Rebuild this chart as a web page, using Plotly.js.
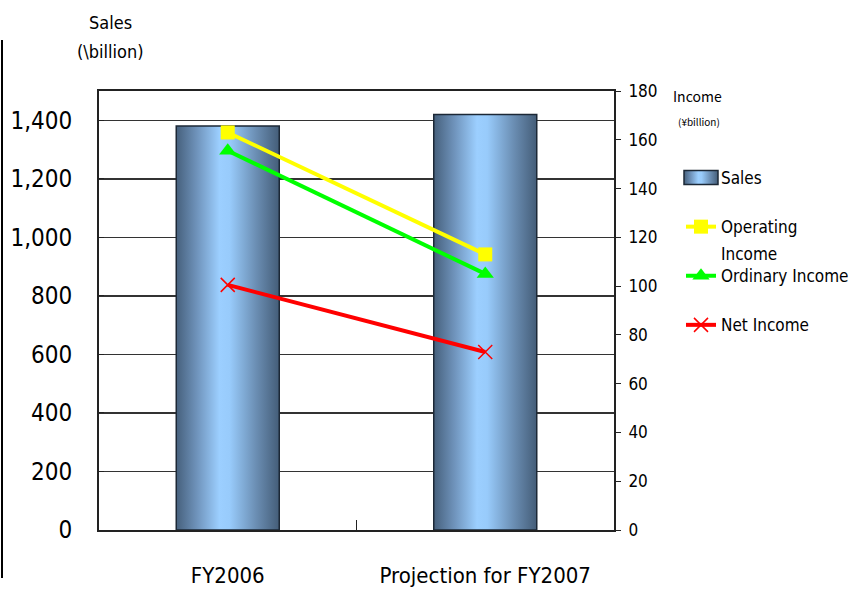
<!DOCTYPE html>
<html>
<head>
<meta charset="utf-8">
<script src="https://cdn.plot.ly/plotly-3.0.1.min.js"></script>
<style>html,body{margin:0;padding:0;background:#fff;}#chart{width:856px;height:589px;}</style>
</head>
<body>
<div id="chart"></div>
<script>
const categories = ['FY2006', 'Projection for FY2007'];
const sales = [1380, 1420];
const operatingIncome = [163, 113];
const ordinaryIncome = [155.5, 105];
const netIncome = [100.5, 73];
const salesTicks = [0, 200, 400, 600, 800, 1000, 1200, 1400];
const incomeTicks = [0, 20, 40, 60, 80, 100, 120, 140, 160, 180];

const FONT = 'DejaVu Sans Condensed, DejaVu Sans, sans-serif';

const traces = [
  {type:'bar', name:'Sales', x:categories, y:sales, width:0.4,
   marker:{color:'#8fbde8', line:{color:'#1c2836', width:1.5}}, legendgroup:'a', hoverinfo:'none'},
  {type:'scatter', mode:'lines+markers', name:'Operating', x:categories, y:operatingIncome, yaxis:'y2',
   line:{color:'#ffff00', width:4}, marker:{symbol:'square', size:14, color:'#ffff00'}, legendgroup:'b', hoverinfo:'none'},
  {type:'scatter', mode:'lines+markers', name:'Ordinary Income', x:categories, y:ordinaryIncome, yaxis:'y2',
   line:{color:'#00ff00', width:4}, marker:{symbol:'triangle-up', size:15, color:'#00ff00'}, legendgroup:'c', hoverinfo:'none'},
  {type:'scatter', mode:'lines+markers', name:'Net Income', x:categories, y:netIncome, yaxis:'y2',
   line:{color:'#ff0000', width:4}, marker:{symbol:'x-thin', size:14, color:'#ff0000', line:{color:'#ff0000', width:1.5}}, legendgroup:'d', hoverinfo:'none'}
];

const layout = {
  width:856, height:589,
  margin:{l:99, r:242, t:91, b:59},
  paper_bgcolor:'#ffffff', plot_bgcolor:'#ffffff',
  font:{family:FONT, color:'#000'},
  showlegend:true,
  xaxis:{
    type:'category', showline:true, mirror:true, linecolor:'#222', linewidth:2,
    ticks:'inside', tickson:'boundaries', ticklen:10, tickcolor:'#222', tickangle:0,
    tickfont:{size:22, family:FONT}, ticklabelstandoff:25, showgrid:false, zeroline:false, automargin:false
  },
  yaxis:{
    range:[0,1500], tickvals:salesTicks, tickformat:',', showline:true, linecolor:'#222', linewidth:2,
    ticks:'inside', ticklen:5, tickcolor:'#222',
    tickfont:{size:24, family:FONT}, ticklabelstandoff:20, automargin:false,
    showgrid:true, gridcolor:'#333', gridwidth:1.5, zeroline:false
  },
  yaxis2:{
    range:[0,180], tickvals:incomeTicks, overlaying:'y', side:'right', showline:true, linecolor:'#222', linewidth:2,
    ticks:'outside', ticklen:5, tickcolor:'#222', automargin:false, ticklabelstandoff:4,
    tickfont:{size:17, family:FONT}, showgrid:false, zeroline:false
  },
  legend:{xref:'container', yref:'container', x:681/856, y:1-160/589, xanchor:'left', yanchor:'top', bgcolor:'rgba(0,0,0,0)',
    font:{size:17, family:FONT}, tracegroupgap:24, traceorder:'grouped', itemwidth:30},
  annotations:[
    {text:'Sales', xref:'paper', yref:'paper', x:(110-99)/515, y:(530-22)/439, showarrow:false, font:{size:18, family:FONT}, xanchor:'center', yanchor:'middle'},
    {text:'(\\billion)', xref:'paper', yref:'paper', x:(110-99)/515, y:(530-52)/439, showarrow:false, font:{size:18, family:FONT}, xanchor:'center', yanchor:'middle'},
    {text:'Income', xref:'paper', yref:'paper', x:(697-99)/515, y:(530-96)/439, showarrow:false, font:{size:14, family:'Noto Sans CJK JP'}, xanchor:'center', yanchor:'middle'},
    {text:'(¥billion)', xref:'paper', yref:'paper', x:(699-99)/515, y:(530-121)/439, showarrow:false, font:{size:10, family:'Noto Sans CJK JP'}, xanchor:'center', yanchor:'middle'},
    {text:'Income', xref:'paper', yref:'paper', x:(719-99)/515, y:(530-254)/439, showarrow:false, font:{size:17, family:FONT}, xanchor:'left', yanchor:'middle'}
  ],
  shapes:[
    {type:'line', xref:'paper', yref:'paper', x0:(2-99)/515, x1:(2-99)/515, y0:(530-40)/439, y1:(530-578)/439, line:{color:'#000', width:2}}
  ]
};

Plotly.newPlot('chart', traces, layout, {displayModeBar:false, staticPlot:true}).then(function(gd){
  const svgNS = 'http://www.w3.org/2000/svg';
  const svg = gd.querySelector('.main-svg');
  const defs = document.createElementNS(svgNS, 'defs');
  const grad = document.createElementNS(svgNS, 'linearGradient');
  grad.setAttribute('id', 'barGrad');
  grad.setAttribute('x1', '0'); grad.setAttribute('x2', '1'); grad.setAttribute('y1', '0'); grad.setAttribute('y2', '0');
  [[0,'#46607c'],[0.2,'#6f93bb'],[0.42,'#9ccfff'],[0.52,'#98cbfb'],[0.78,'#6a8db2'],[1,'#445d78']].forEach(function(s){
    const st = document.createElementNS(svgNS, 'stop');
    st.setAttribute('offset', s[0]); st.setAttribute('stop-color', s[1]);
    grad.appendChild(st);
  });
  defs.appendChild(grad);
  svg.insertBefore(defs, svg.firstChild);
  gd.querySelectorAll('.barlayer .point path').forEach(function(p){ p.style.fill = 'url(#barGrad)'; });
  const firstLeg = gd.querySelector('.legend .traces .legendpoints path');
  if (firstLeg) {
    firstLeg.setAttribute('d', 'M17,7H-17V-7H17Z');
    firstLeg.style.fill = 'url(#barGrad)';
  }
});
</script>
</body>
</html>
